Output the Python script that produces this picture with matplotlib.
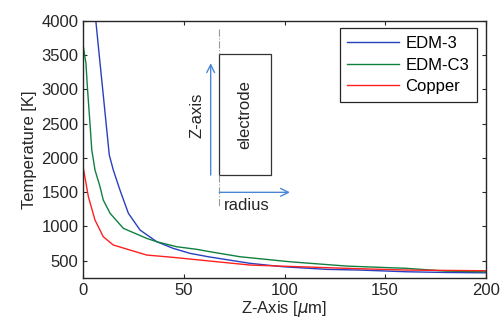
import numpy as np
import matplotlib
matplotlib.use("Agg")
import matplotlib.pyplot as plt
from matplotlib.patches import Rectangle

plt.rcParams['font.family'] = ['Liberation Sans', 'DejaVu Sans']
plt.rcParams['font.size'] = 12

# data
z_edm3 = [4.0, 6.2, 8.0, 10.0, 12.9, 14.9, 18.2, 22.4, 28.2, 36.5, 44.7, 53.0, 62.1,
          82.9, 99.4, 121.0, 137.5, 160.7, 180.0, 200.0]
t_edm3 = [4640, 4000, 3470, 2890, 2042, 1823, 1532, 1192, 948, 778, 681, 609, 559,
          463, 413, 375, 365, 340, 330, 325]

z_edmc3 = [0.0, 1.3, 2.0, 3.3, 4.2, 5.8, 8.3, 9.9, 13.3, 19.9, 31.5, 36.5, 46.4, 56.4,
           63.0, 77.9, 102.7, 130.9, 160.7, 180.0, 200.0]
t_edmc3 = [3620, 3379, 3038, 2504, 2115, 1823, 1580, 1386, 1192, 973, 827, 778, 705, 667,
           632, 559, 486, 423, 390, 350, 340]

z_copper = [0.0, 2.5, 5.8, 9.9, 14.9, 23.2, 31.5, 44.7, 63.0, 82.9, 107.7, 130.9,
            160.7, 180.0, 200.0]
t_copper = [1850, 1434, 1094, 851, 730, 657, 584, 550, 496, 438, 413, 390,
            365, 360, 355]

fig = plt.figure(figsize=(5.02, 3.27), dpi=100)
ax = fig.add_axes([0.166, 0.150, 0.8015, 0.7867])

ax.plot(z_edm3, t_edm3, color='#2840c0', lw=1.0, label='EDM-3')
ax.plot(z_edmc3, t_edmc3, color='#108040', lw=1.0, label='EDM-C3')
ax.plot(z_copper, t_copper, color='#ff2020', lw=1.0, label='Copper')

# electrode sketch
ax.plot([67.6, 67.6], [3880, 3510], color='#999999', lw=0.8, ls='-.')
ax.plot([67.6, 67.6], [1750, 1290], color='#999999', lw=0.8, ls='-.')
ax.add_patch(Rectangle((67.6, 1750), 25.7, 1760, fill=False, ec='#333333', lw=0.9))
ax.annotate('', xy=(63.3, 3380), xytext=(63.3, 1750),
            arrowprops=dict(arrowstyle='->', color='#4a86d8', lw=1.0,
                            shrinkA=0, shrinkB=0, mutation_scale=14))
ax.annotate('', xy=(102.7, 1498), xytext=(67.6, 1498),
            arrowprops=dict(arrowstyle='->', color='#4a86d8', lw=1.0,
                            shrinkA=0, shrinkB=0, mutation_scale=14))
ax.text(56.7, 2625, 'Z-axis', rotation=90, ha='center', va='center', color='#262626')
ax.text(80.4, 2625, 'electrode', rotation=90, ha='center', va='center', color='#262626')
ax.text(81.2, 1313, 'radius', ha='center', va='center', color='#262626')

ax.set_xlim(0, 200)
ax.set_ylim(250, 4000)
ax.set_xticks([0, 50, 100, 150, 200])
ax.set_yticks([500, 1000, 1500, 2000, 2500, 3000, 3500, 4000])
ax.tick_params(direction='in', top=True, right=True, length=3, colors='#262626',
               labelsize=12)
for s in ax.spines.values():
    s.set_color('#262626')
    s.set_linewidth(1.0)

ax.set_xlabel(r'Z-Axis [$\mu$m]', color='#262626', labelpad=1)
ax.set_ylabel('Temperature [K]', color='#262626', labelpad=3)

leg = ax.legend(loc='upper right', bbox_to_anchor=(0.9776, 0.970), borderaxespad=0,
                fancybox=False, edgecolor='#262626', framealpha=1, fontsize=12,
                handlelength=3.1, borderpad=0.45, labelspacing=0.4, handletextpad=0.4)
leg.get_frame().set_linewidth(0.9)

fig.savefig('out.png', dpi=100)
